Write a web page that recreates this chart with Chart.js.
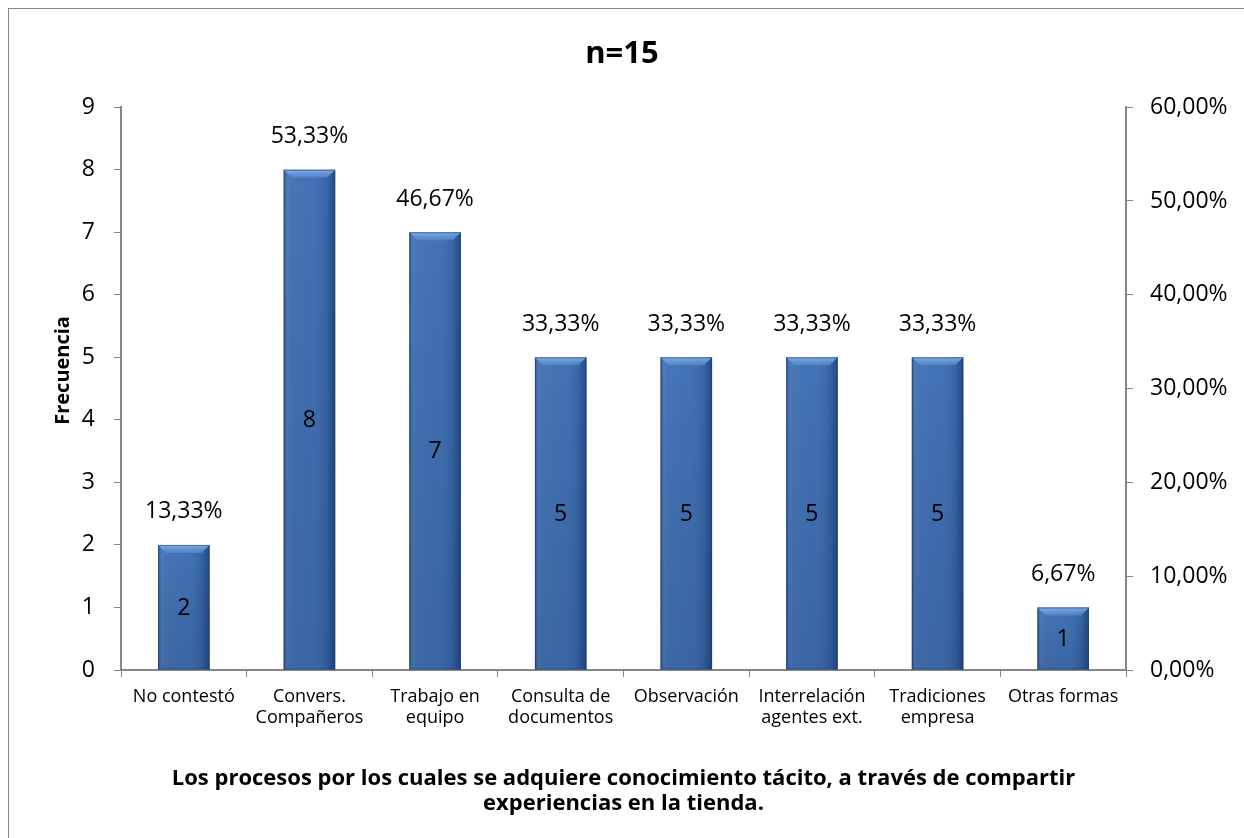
<!DOCTYPE html>
<html>
<head>
<meta charset="utf-8">
<script src="https://cdn.jsdelivr.net/npm/chart.js@4.4.1/dist/chart.umd.min.js"></script>
<style>
  body { margin: 0; background: #fff; overflow: hidden; }
  #marco { position: absolute; left: 8px; top: 8px; width: 1300px; height: 900px; border: 1px solid #868686; }
  #caja { position: absolute; left: 0; top: 0; width: 1244px; height: 838px; }
</style>
</head>
<body>
<div id="marco"></div>
<div id="caja"><canvas id="grafico" width="1244" height="838"></canvas></div>
<script>
// datos
var categorias = [
  ['No contestó'],
  ['Convers.', 'Compañeros'],
  ['Trabajo en', 'equipo'],
  ['Consulta de', 'documentos'],
  ['Observación'],
  ['Interrelación', 'agentes ext.'],
  ['Tradiciones', 'empresa'],
  ['Otras formas']
];
var frecuencias = [2, 8, 7, 5, 5, 5, 5, 1];
var porcentajes = [13.33, 53.33, 46.67, 33.33, 33.33, 33.33, 33.33, 6.67];
var ticksFrecuencia = [0, 1, 2, 3, 4, 5, 6, 7, 8, 9];
var ticksPorcentaje = [0, 10, 20, 30, 40, 50, 60];

var fuente = "'Open Sans', sans-serif";
var gris = '#868686';

function coma(n) {
  return n.toFixed(2).replace('.', ',') + '%';
}

// sombreado tipo bisel de excel + etiquetas
var biselYEtiquetas = {
  id: 'biselYEtiquetas',
  afterDatasetsDraw: function (chart) {
    var ctx = chart.ctx;
    var meta = chart.getDatasetMeta(0);
    meta.data.forEach(function (barra, i) {
      var L = barra.x - barra.width / 2;
      var R = barra.x + barra.width / 2;
      var T = barra.y;
      var B = barra.base;
      var b = 8;
      ctx.save();
      // degradado horizontal
      var g = ctx.createLinearGradient(L, 0, R, 0);
      g.addColorStop(0, 'rgba(20,50,100,0.35)');
      g.addColorStop(0.12, 'rgba(255,255,255,0.06)');
      g.addColorStop(0.5, 'rgba(255,255,255,0.03)');
      g.addColorStop(0.85, 'rgba(10,30,70,0.12)');
      g.addColorStop(1, 'rgba(10,30,70,0.45)');
      ctx.fillStyle = g;
      ctx.fillRect(L, T, R - L, B - T);
      // oscurecer hacia abajo
      var gv = ctx.createLinearGradient(0, T, 0, B);
      gv.addColorStop(0, 'rgba(0,0,0,0)');
      gv.addColorStop(1, 'rgba(10,25,60,0.15)');
      ctx.fillStyle = gv;
      ctx.fillRect(L, T, R - L, B - T);
      // bisel superior
      var bb = Math.min(b, (B - T) / 2);
      var gt = ctx.createLinearGradient(0, T, 0, T + bb);
      gt.addColorStop(0, 'rgba(140,185,240,0.85)');
      gt.addColorStop(1, 'rgba(90,140,210,0.6)');
      ctx.fillStyle = gt;
      ctx.beginPath();
      ctx.moveTo(L, T);
      ctx.lineTo(R, T);
      ctx.lineTo(R - bb, T + bb);
      ctx.lineTo(L + bb, T + bb);
      ctx.closePath();
      ctx.fill();
      // borde fino
      ctx.strokeStyle = 'rgba(30,60,110,0.6)';
      ctx.lineWidth = 1;
      ctx.strokeRect(L + 0.5, T + 0.5, R - L - 1, B - T - 1);
      ctx.restore();

      // etiquetas
      ctx.save();
      ctx.fillStyle = '#000';
      ctx.textAlign = 'center';
      ctx.textBaseline = 'middle';
      ctx.font = '23px ' + fuente;
      ctx.fillText(String(frecuencias[i]), barra.x, (T + B) / 2 + 1);
      ctx.fillText(coma(porcentajes[i]), barra.x, T - 33);
      ctx.restore();
    });
  }
};

var ctx = document.getElementById('grafico').getContext('2d');
var grafico = new Chart(ctx, {
  type: 'bar',
  data: {
    labels: categorias,
    datasets: [{
      label: 'Frecuencia',
      data: frecuencias,
      backgroundColor: '#3b6eb4',
      borderWidth: 0,
      categoryPercentage: 1,
      barPercentage: 0.41,
      yAxisID: 'y'
    }]
  },
  options: {
    responsive: false,
    animation: false,
    layout: { padding: { left: 0, right: 0, top: 0, bottom: 0 } },
    plugins: {
      legend: { display: false },
      tooltip: { enabled: false },
      title: {
        display: true,
        text: 'n=15',
        color: '#000',
        font: { family: fuente, size: 31, weight: 'bold', lineHeight: 1.2 },
        padding: { top: 36, bottom: 34 }
      }
    },
    scales: {
      x: {
        grid: { drawOnChartArea: false, drawTicks: true, tickLength: 7, color: gris, offset: true },
        border: { color: gris, width: 2 },
        ticks: {
          color: '#000',
          padding: 9,
          maxRotation: 0,
          autoSkip: false,
          font: { family: fuente, size: 18, lineHeight: 1.17 }
        },
        title: {
          display: true,
          text: ['Los procesos por los cuales se adquiere conocimiento tácito, a través de compartir', 'experiencias en la tienda.'],
          color: '#000',
          font: { family: fuente, size: 22, weight: 'bold', lineHeight: 1.14 },
          padding: { top: 0, bottom: 22 }
        },
        afterFit: function (s) { s.height = 168; }
      },
      y: {
        position: 'left',
        min: 0,
        max: 9,
        afterBuildTicks: function (s) { s.ticks = ticksFrecuencia.map(function (v) { return { value: v }; }); },
        grid: { drawOnChartArea: false, drawTicks: true, tickLength: 7, color: gris },
        border: { color: gris, width: 2 },
        ticks: {
          color: '#000',
          padding: 19,
          font: { family: fuente, size: 23 }
        },
        title: {
          display: true,
          text: '       Frecuencia',
          color: '#000',
          font: { family: fuente, size: 20, weight: 'bold', lineHeight: 1.2 },
          padding: { top: 51, bottom: 0 }
        },
        afterFit: function (s) { s.width = 121; }
      },
      y2: {
        position: 'right',
        min: 0,
        max: 60,
        afterBuildTicks: function (s) { s.ticks = ticksPorcentaje.map(function (v) { return { value: v }; }); },
        grid: { drawOnChartArea: false, drawTicks: true, tickLength: 7, color: gris },
        border: { color: gris, width: 2 },
        ticks: {
          color: '#000',
          padding: 17,
          font: { family: fuente, size: 23 },
          callback: function (v) { return coma(v); }
        },
        afterFit: function (s) { s.width = 118; }
      }
    }
  },
  plugins: [biselYEtiquetas]
});
</script>
</body>
</html>
